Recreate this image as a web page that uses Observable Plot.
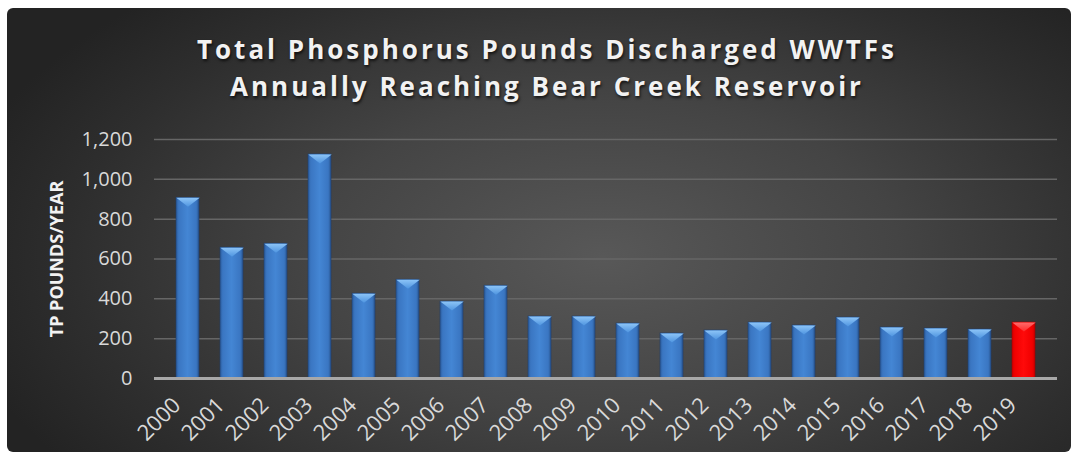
<!DOCTYPE html>
<html>
<head>
<meta charset="utf-8">
<script src="https://cdn.jsdelivr.net/npm/d3@7"></script>
<script src="https://cdn.jsdelivr.net/npm/@observablehq/plot@0.6"></script>
<style>
  body { margin: 0; background: #ffffff; }
  #wrap { position: relative; width: 1078px; height: 461px; overflow: hidden; background: #ffffff; }
  #panel { position: absolute; left: 7px; top: 8px; width: 1064px; height: 444px; border-radius: 6px;
    background: radial-gradient(ellipse 62% 80% at 56% 56%, #585858 0%, #444444 45%, #2e2e2e 80%, #232323 100%); }
  #title { position: absolute; left: 8px; top: 31px; width: 1078px; text-align: center;
    font-family: "Open Sans", sans-serif; font-weight: bold; font-size: 26px; line-height: 37px;
    letter-spacing: 3px; color: #f2f2f2; text-shadow: 1px 2px 3px rgba(0,0,0,0.7); }
  #ylabel { position: absolute; left: 56px; top: 259px; transform: translate(-50%, -50%) rotate(-90deg);
    white-space: nowrap; font-family: "Open Sans", sans-serif; font-weight: bold; font-size: 18px; color: #f2f2f2; }
  #chart { position: absolute; left: 0; top: 0; }
</style>
</head>
<body>
<div id="wrap">
  <div id="panel"></div>
  <div id="title">Total Phosphorus Pounds Discharged WWTFs<br>Annually Reaching Bear Creek Reservoir</div>
  <div id="ylabel">TP POUNDS/YEAR</div>
  <div id="chart"></div>
</div>
<script>
const years = ["2000","2001","2002","2003","2004","2005","2006","2007","2008","2009",
               "2010","2011","2012","2013","2014","2015","2016","2017","2018","2019"];
const values = [907, 657, 677, 1125, 426, 496, 386, 466, 311, 311,
                276, 226, 241, 281, 266, 306, 256, 251, 246, 281];
const highlightYear = "2019";
const yMax = 1200;
const yTickStep = 200;

const data = years.map((year, i) => ({year, value: values[i]}));
const blueData = data.filter(d => d.year !== highlightYear);
const redData = data.filter(d => d.year === highlightYear);
const yTicks = d3.range(0, yMax + 1, yTickStep);

const W = 1078, H = 461;
const mL = 154, mR = 21, mT = 139, mB = 83;
const pad = 0.47;
const bw = d3.scaleBand().domain(years).range([mL, W - mR]).padding(pad).bandwidth();
const bevelH = 9;

const bevelSymbol = {
  draw(ctx) {
    ctx.moveTo(-bw / 2, 0);
    ctx.lineTo(bw / 2, 0);
    ctx.lineTo(0, bevelH);
    ctx.closePath();
  }
};

function defs() {
  const d = d3.create("svg:defs");
  const lin = (id, stops, vertical) => {
    const g = d.append("linearGradient").attr("id", id)
      .attr("x1", 0).attr("y1", 0).attr("x2", vertical ? 0 : 1).attr("y2", vertical ? 1 : 0);
    stops.forEach(([o, c]) => g.append("stop").attr("offset", o).attr("stop-color", c));
  };
  lin("gBlue", [[0, "#2b5c9c"], [0.12, "#3a76c2"], [0.5, "#4486d4"], [0.88, "#3a76c2"], [1, "#28558f"]]);
  lin("gRed", [[0, "#d00000"], [0.12, "#f00000"], [0.5, "#ff0a0a"], [0.88, "#f00000"], [1, "#c80000"]]);
  lin("gBevelBlue", [[0, "#8cc4f7"], [1, "#4f95e0"]], true);
  lin("gBevelRed", [[0, "#ff6a6a"], [1, "#ff2a2a"]], true);
  return d.node();
}

const plot = Plot.plot({
  width: W, height: H,
  marginLeft: mL, marginRight: mR, marginTop: mT, marginBottom: mB,
  style: { background: "transparent", color: "#d9d9d9", fontFamily: "'Open Sans', sans-serif", fontSize: "20px" },
  x: { type: "band", domain: years, padding: pad, label: null, tickSize: 0, tickRotate: -45, tickPadding: 16 },
  y: { domain: [0, yMax], ticks: yTicks.length - 1, tickFormat: d3.format(",d"), tickSize: 0, tickPadding: 22, label: null },
  marks: [
    defs,
    Plot.ruleY(yTicks.filter(t => t > 0), { stroke: "#666666", strokeWidth: 1.5 }),
    Plot.barY(blueData, { x: "year", y: "value", fill: "url(#gBlue)", stroke: "#1e3f6e", strokeWidth: 0.6 }),
    Plot.barY(redData, { x: "year", y: "value", fill: "url(#gRed)", stroke: "#9a0000", strokeWidth: 0.6 }),
    Plot.dot(blueData, { x: "year", y: "value", symbol: bevelSymbol, r: 5, fill: "url(#gBevelBlue)", stroke: "none" }),
    Plot.dot(redData, { x: "year", y: "value", symbol: bevelSymbol, r: 5, fill: "url(#gBevelRed)", stroke: "none" }),
    Plot.ruleY([0], { stroke: "#a8a8a8", strokeWidth: 3 })
  ]
});
plot.querySelectorAll("g[aria-label='x-axis tick label'], g[aria-label='x-axis']").forEach(g => {
  const t = g.getAttribute("transform") || "";
  g.setAttribute("transform", "translate(-11,7) " + t);
  g.querySelectorAll("text").forEach(txt => txt.style.fontSize = "22px");
});
document.getElementById("chart").appendChild(plot);
</script>
</body>
</html>
